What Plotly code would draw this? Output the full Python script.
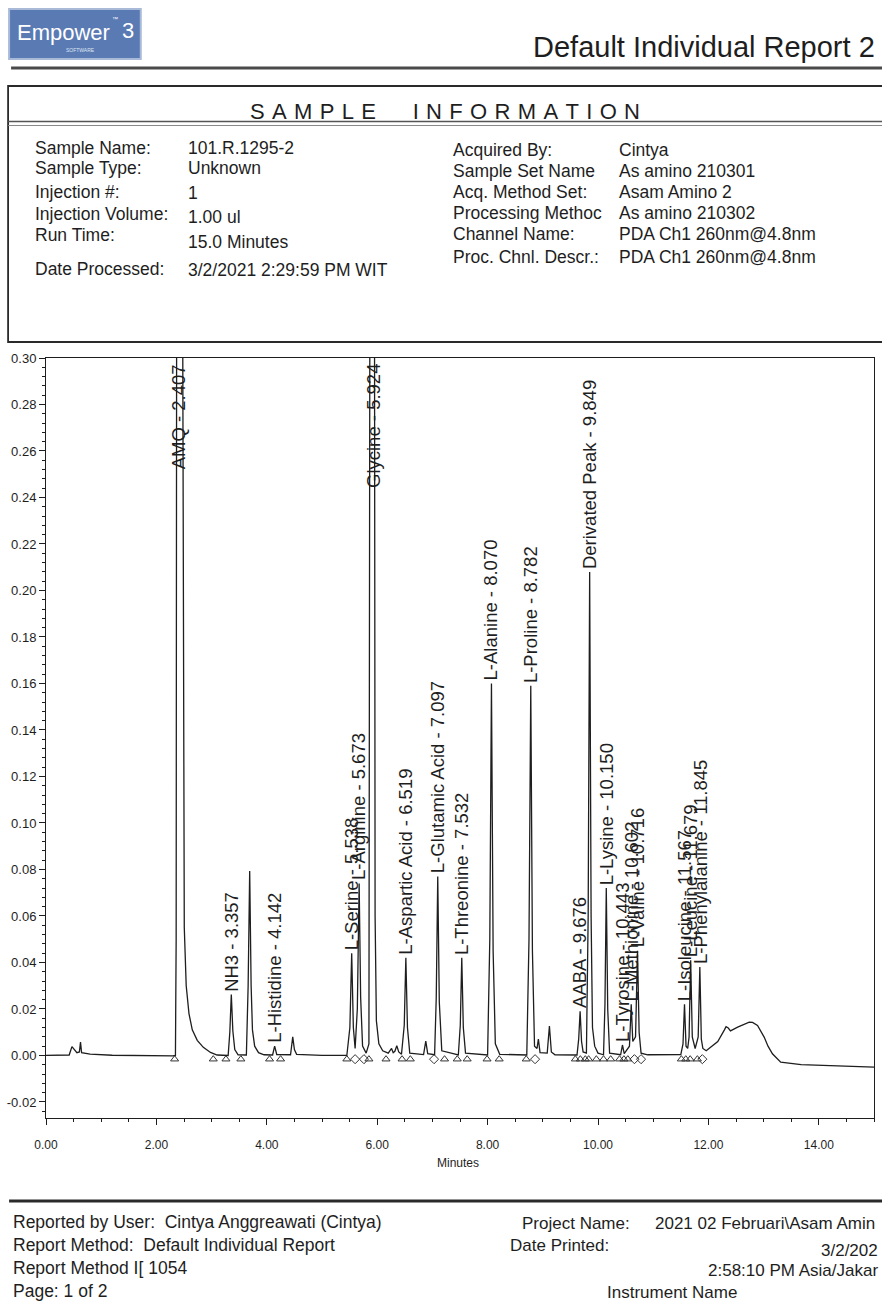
import plotly.graph_objects as go

# ---------------------------------------------------------------- data
# integrated peaks: name, retention time (min) and apex absorbance (AU)
peak_names = ["AMQ", "NH3", "L-Histidine", "L-Serine", "L-Arginine", "Glycine",
              "L-Aspartic Acid", "L-Glutamic Acid", "L-Threonine", "L-Alanine",
              "L-Proline", "AABA", "Derivated Peak", "L-Lysine", "L-Tyrosine",
              "L-Methionine", "L-Valine", "L-Isoleucine", "L-Leucine",
              "L-Phenylalanine"]
peak_rt = [2.407, 3.357, 4.142, 5.538, 5.673, 5.924, 6.519, 7.097, 7.532, 8.070,
           8.782, 9.676, 9.849, 10.150, 10.443, 10.602, 10.716, 11.567, 11.679,
           11.845]
peak_height = [0.62, 0.0262, 0.0040, 0.044, 0.074, 0.61, 0.042, 0.077, 0.042,
               0.160, 0.159, 0.019, 0.208, 0.072, 0.0045, 0.022, 0.045, 0.022,
               0.041, 0.038]

# remaining detector trace samples (peak flanks, unnamed peaks, baseline)
trace_time = [
    0.00, 0.42, 0.47, 0.51, 0.56, 0.605, 0.625, 0.645, 0.80, 1.20, 1.80, 2.30,
    2.345, 2.358, 2.366, 2.478, 2.490, 2.505, 2.540, 2.590, 2.650, 2.740, 2.850,
    2.980, 3.100,
    3.300, 3.330, 3.385, 3.420, 3.480,
    3.630, 3.662, 3.690, 3.716, 3.740, 3.780, 3.850, 3.950,
    4.105, 4.180, 4.430, 4.470, 4.500, 4.540, 5.000, 5.450,
    5.505, 5.568, 5.600, 5.640, 5.700, 5.735, 5.800,
    5.850, 5.866, 5.952, 5.962, 5.985, 6.030, 6.100, 6.200,
    6.260, 6.290, 6.320, 6.355, 6.390, 6.440,
    6.490, 6.548, 6.590, 6.840, 6.880, 6.915,
    7.040, 7.070, 7.125, 7.170, 7.470, 7.505, 7.560, 7.600,
    8.000, 8.040, 8.100, 8.140, 8.220,
    8.710, 8.750, 8.812, 8.850, 8.895, 8.920, 8.950,
    9.080, 9.120, 9.155, 9.220,
    9.620, 9.650, 9.702, 9.730, 9.790, 9.822, 9.875, 9.900, 9.940, 10.000,
    10.100, 10.126, 10.176, 10.210, 10.410, 10.475,
    10.570, 10.630, 10.680, 10.745, 10.780, 10.900, 11.300, 11.500,
    11.540, 11.595, 11.625, 11.650, 11.708, 11.760, 11.815, 11.872, 11.900,
    11.960, 12.170, 12.290, 12.320, 12.360, 12.400, 12.530, 12.650, 12.740,
    12.800, 12.890, 13.010, 13.080, 13.160, 13.310, 13.680, 14.300, 15.000,
]
trace_abs = [
    0.0000, 0.0002, 0.0038, 0.0025, 0.0012, 0.0015, 0.0058, 0.0012, 0.0006,
    0.0001, -0.0002, -0.0002,
    0.0000, 0.0500, 0.3000, 0.3000, 0.1000, 0.0550, 0.0300, 0.0180, 0.0110,
    0.0065, 0.0035, 0.0013, 0.0002,
    0.0000, 0.0100, 0.0105, 0.0025, 0.0003,
    0.0002, 0.0300, 0.0793, 0.0300, 0.0110, 0.0040, 0.0012, 0.0003,
    0.0002, 0.0004, 0.0003, 0.0080, 0.0025, 0.0005, 0.0000, 0.0000,
    0.0120, 0.0120, 0.0030, 0.0200, 0.0250, 0.0040, 0.0010,
    0.0050, 0.3000, 0.3000, 0.0600, 0.0150, 0.0050, 0.0020, 0.0010,
    0.0030, 0.0012, 0.0018, 0.0042, 0.0015, 0.0005,
    0.0130, 0.0120, 0.0010, 0.0004, 0.0062, 0.0008,
    0.0003, 0.0250, 0.0230, 0.0020, 0.0002, 0.0130, 0.0120, 0.0010,
    0.0002, 0.0500, 0.0450, 0.0050, 0.0005,
    0.0002, 0.0500, 0.0450, 0.0040, 0.0030, 0.0070, 0.0012,
    0.0010, 0.0127, 0.0015, 0.0003,
    0.0002, 0.0070, 0.0060, 0.0015, 0.0010, 0.0600, 0.0600, 0.0120, 0.0040,
    0.0010,
    0.0003, 0.0220, 0.0200, 0.0010, 0.0003, 0.0008,
    0.0040, 0.0060, 0.0080, 0.0100, 0.0010, 0.0003, 0.0004, 0.0004,
    0.0050, 0.0040, 0.0030, 0.0080, 0.0080, 0.0030, 0.0080, 0.0070, 0.0030,
    0.0020, 0.0060, 0.0110, 0.0124, 0.0118, 0.0106, 0.0122, 0.0133, 0.0143,
    0.0142, 0.0129, 0.0079, 0.0040, 0.0007, -0.0029, -0.0039, -0.0045, -0.0050,
]

# baseline start/end marks
baseline_tri_t = [2.33, 3.03, 3.26, 3.53, 4.05, 4.25, 5.45, 5.85, 6.16, 6.45,
                  6.60, 7.22, 7.45, 7.63, 7.99, 8.21, 8.70, 9.59, 9.68, 9.77,
                  9.83, 9.97, 10.10, 10.23, 10.39, 10.47, 10.54, 11.51, 11.59,
                  11.67, 11.80]
baseline_dia_t = [5.60, 5.76, 7.03, 8.86, 10.66, 10.78, 11.89]

# axis ticks
x_ticks = [0, 2, 4, 6, 8, 10, 12, 14]
y_ticks = [-0.02, 0.00, 0.02, 0.04, 0.06, 0.08, 0.10, 0.12, 0.14, 0.16, 0.18,
           0.20, 0.22, 0.24, 0.26, 0.28, 0.30]

# report text
left_info_keys = ["Sample Name:", "Sample Type:", "Injection #:",
                  "Injection Volume:", "Run Time:", "Date Processed:"]
left_info_vals = ["101.R.1295-2", "Unknown", "1", "1.00 ul", "15.0 Minutes",
                  "3/2/2021 2:29:59 PM WIT"]
right_info_keys = ["Acquired By:", "Sample Set Name", "Acq. Method Set:",
                   "Processing Methoc", "Channel Name:", "Proc. Chnl. Descr.:"]
right_info_vals = ["Cintya", "As amino 210301", "Asam Amino 2",
                   "As amino 210302", "PDA Ch1 260nm@4.8nm", "PDA Ch1 260nm@4.8nm"]

# ---------------------------------------------------------------- layout geometry
W, H = 882, 1302
ML, MR, MT, MB = 45, 7, 358, 184
PW, PH = W - ML - MR, H - MT - MB
Y_MIN, Y_MAX = -0.0269, 0.30


def px(x):
    return (x - ML) / PW


def py(y):
    return (H - MB - y) / PH


ARIAL = "Liberation Sans, Arial, sans-serif"
INK = "#1e1e1e"

# merge the named apexes into the detector trace
pts = sorted(list(zip(trace_time, trace_abs)) + list(zip(peak_rt, peak_height)))
tt = [p[0] for p in pts]
aa = [p[1] for p in pts]

fig = go.Figure()
fig.add_trace(go.Scatter(
    x=baseline_tri_t, y=[-0.0016] * len(baseline_tri_t), mode="markers",
    marker=dict(symbol="triangle-up-open", size=7, color="#333",
                line=dict(width=1)), hoverinfo="skip"))
fig.add_trace(go.Scatter(
    x=baseline_dia_t, y=[-0.0016] * len(baseline_dia_t), mode="markers",
    marker=dict(symbol="diamond-open", size=7, color="#333",
                line=dict(width=1)), hoverinfo="skip"))
fig.add_trace(go.Scatter(x=tt, y=aa, mode="lines",
                         line=dict(color=INK, width=1.3), hoverinfo="skip"))

ann = []
# peak labels
for name, rt, h in zip(peak_names, peak_rt, peak_height):
    label = f"{name} - {rt:.3f}"
    if h < Y_MAX:
        ann.append(dict(x=rt, y=h, xref="x", yref="y", text=label, textangle=-90,
                        showarrow=False, xanchor="center", yanchor="bottom",
                        yshift=1, font=dict(family=ARIAL, size=18.5, color=INK)))
    else:
        ann.append(dict(x=rt, y=Y_MAX, xref="x", yref="y", text=label,
                        textangle=-90, showarrow=False, xanchor="center",
                        yanchor="top", yshift=-4,
                        font=dict(family=ARIAL, size=18.5, color=INK)))

ann.append(dict(x=px(458), y=py(1163), xref="paper", yref="paper", text="Minutes",
                showarrow=False, xanchor="center", yanchor="middle",
                font=dict(family=ARIAL, size=12, color=INK)))


def txt(x, y, s, size, anchor="left", color=INK):
    ann.append(dict(x=px(x), y=py(y), xref="paper", yref="paper", text=s,
                    showarrow=False, xanchor=anchor, yanchor="middle",
                    font=dict(family=ARIAL, size=size, color=color)))


# header
txt(14, 32, "Empower", 22, color="white")
txt(109, 19, "™", 6, color="white")
txt(119, 31, "3", 22, color="white")
txt(80, 50, "SOFTWARE", 5, anchor="center", color="#dfe6f3")
txt(878, 47, "Default Individual Report 2", 29, anchor="right")

# sample information block
sp = "\u2004"
title = sp.join("SAMPLE") + sp * 5 + sp.join("INFORMATION")
txt(445, 111, title, 22, anchor="center")
for k, v, yk, yv in zip(left_info_keys, left_info_vals,
                        [148, 168, 192, 214, 235, 269],
                        [148, 168, 193, 217, 242, 270]):
    txt(32, yk, k, 17.5)
    txt(185, yv, v, 17.5)
for k, v, yy in zip(right_info_keys, right_info_vals,
                    [150, 171, 192, 213, 234, 257]):
    txt(451, yy, k, 17.5)
    txt(617, yy, v, 17.5)

# footer (right-hand column runs to the page edge)
txt(10, 1222, "Reported by User:  Cintya Anggreawati (Cintya)", 17.5)
txt(10, 1245, "Report Method:  Default Individual Report", 17.5)
txt(10, 1268, "Report Method I[ 1054", 17.5)
txt(10, 1291, "Page: 1 of 2", 17.5)
txt(520, 1223, "Project Name:", 17)
txt(653, 1223, "2021 02 Februari\\Asam Amin", 17)
txt(508, 1245, "Date Printed:", 17)
txt(881, 1250, "3/2/202", 17, anchor="right")
txt(881, 1270, "2:58:10 PM Asia/Jakar", 17, anchor="right")
txt(605, 1292, "Instrument Name", 17)

shapes = [
    # logo tile
    dict(type="rect", xref="paper", yref="paper", x0=px(8), x1=px(140),
         y0=py(59), y1=py(9), fillcolor="#5a7ab4",
         line=dict(color="#a9bad8", width=2), layer="below"),
    # header rule
    dict(type="line", xref="paper", yref="paper", x0=px(10), x1=px(890),
         y0=py(68), y1=py(68), line=dict(color="#4a4a4a", width=3)),
    # sample information frame
    dict(type="rect", xref="paper", yref="paper", x0=px(7), x1=px(900),
         y0=py(342), y1=py(86), line=dict(color="#2a2a2a", width=1.8)),
    dict(type="line", xref="paper", yref="paper", x0=px(7), x1=px(900),
         y0=py(121.5), y1=py(121.5), line=dict(color="#555", width=1.4)),
    dict(type="line", xref="paper", yref="paper", x0=px(7), x1=px(900),
         y0=py(125.5), y1=py(125.5), line=dict(color="#888", width=1)),
    # footer rule
    dict(type="line", xref="paper", yref="paper", x0=px(8), x1=px(890),
         y0=py(1201), y1=py(1201), line=dict(color="#2a2a2a", width=3)),
]

axis_common = dict(showline=True, linecolor=INK, linewidth=1, mirror=True,
                   showgrid=False, zeroline=False, ticks="outside",
                   tickcolor=INK, ticklen=6)

fig.update_layout(
    width=W, height=H, autosize=False,
    margin=dict(l=ML, r=MR, t=MT, b=MB, pad=0),
    paper_bgcolor="white", plot_bgcolor="white", showlegend=False,
    annotations=ann, shapes=shapes,
    xaxis=dict(range=[0, 15], tickvals=x_ticks,
               ticktext=[f"{v:.2f}" for v in x_ticks],
               tickfont=dict(family=ARIAL, size=12, color=INK),
               ticklabelstandoff=10,
               minor=dict(dtick=0.5, tick0=0, ticks="outside", ticklen=3,
                          tickcolor=INK),
               **axis_common),
    yaxis=dict(range=[Y_MIN, Y_MAX], tickvals=y_ticks,
               ticktext=[f"{v:.2f}" for v in y_ticks],
               tickfont=dict(family=ARIAL, size=13, color=INK),
               minor=dict(dtick=0.004, tick0=0, ticks="outside", ticklen=3,
                          tickcolor=INK),
               **axis_common),
)

fig.write_html("out.html")
